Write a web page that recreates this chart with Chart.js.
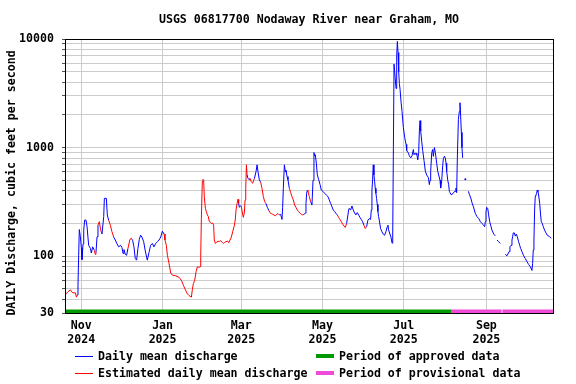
<!DOCTYPE html>
<html>
<head>
<meta charset="utf-8">
<script src="https://cdn.jsdelivr.net/npm/chart.js@4.4.1/dist/chart.umd.min.js"></script>
<style>
  html, body { margin: 0; padding: 0; background: #fff; }
  canvas { display: block; }
</style>
</head>
<body>
<canvas id="hydro" width="576" height="384"></canvas>
<script>
// Day offsets are counted from 2024-10-19
const TITLE = 'USGS 06817700 Nodaway River near Graham, MO';
const Y_TITLE = 'DAILY Discharge, cubic feet per second';

const monthTicks = [13, 74, 133, 194, 255, 317];
const monthLabels = [['Nov', '2024'], ['Jan', '2025'], ['Mar', '2025'], ['May', '2025'], ['Jul', '2025'], ['Sep', '2025']];
const yLabelTicks = [30, 100, 1000, 10000];

// [day, discharge cfs]  (null = no data)
const flow = [
  [0,43],[1.5,45],[3,47],[4.8,49],[6.5,46],[8.5,46],[9.3,42],[10,44],[10.5,54],[11,102],[11.5,176],[12.3,151],
  [13,120],[13.5,93],[14.3,130],[14.8,174],[15.5,215],[16.5,215],[17.3,187],[18.5,126],[19.8,118],[20.5,107],
  [21.5,122],[22.8,113],[23.5,104],[24,108],[24.8,151],[25.5,193],[26.5,208],[27.5,175],[28.5,160],[29.8,231],
  [30.3,341],[31.8,341],[32.5,240],[33.5,215],[34.8,193],[36,168],[37.3,150],[38.5,141],[39.8,130],[41,122],
  [42.5,126],[43.5,120],[44.3,106],[45,115],[46,104],[47,102],[48,118],[49.5,143],[50.5,146],[51.5,140],
  [52.5,122],[53.5,95],[54.5,92],[55.5,118],[56.5,143],[57.5,156],[58.5,150],[59.8,136],[61,112],
  [62.5,92],[63.8,108],[65,126],[66.3,131],[67.5,122],[68.8,131],[70.1,136],[71.3,141],[72.6,150],[73.8,170],
  [75.1,160],[75.8,141],[76.8,126],[77.6,102],[78.8,86],[80.1,70],[81.3,67],[83.8,66],[86.3,64],[88.1,60],
  [89.6,54],[91.1,49],[92.6,45],[93.8,43.5],[95.6,42],[96.3,49],[97.1,56],[98.1,60],[99.1,72],[100.1,80],
  [101.1,79],[102.1,80],[102.6,99],[103.1,223],[103.8,486],[104.3,510],[104.8,500],[105.3,354],[106.1,276],
  [106.8,258],[107.6,240],[108.3,232],[109.1,208],[110.1,205],[110.8,200],[111.6,202],[112.3,193],[112.8,141],
  [113.6,131],[114.6,135],[115.6,137],[116.6,137],[117.6,139],[118.8,134],[119.6,131],[120.6,134],[121.6,136],
  [122.8,138],[123.6,133],[124.6,141],[125.6,150],[126.6,168],[127.9,193],[128.6,220],[129.1,266],[129.9,307],
  [130.6,334],[131.1,305],[131.6,282],[132.4,292],[133.1,285],[133.9,250],[134.6,228],[135.4,255],[135.9,330],
  [136.4,422],[136.9,694],[137.4,560],[138.1,521],[139.1,505],[139.6,521],[140.4,486],[141.6,470],[142.9,520],
  [144.1,600],[144.9,694],[145.6,600],[146.6,505],[147.6,480],[148.6,422],[149.6,354],[150.6,318],[151.6,305],
  [152.6,282],[153.6,266],[154.6,251],[155.6,247],[156.6,243],[157.6,240],[158.6,235],[159.6,243],[160.6,247],
  [161.6,240],[162.6,243],[163.6,218],[164.1,282],[164.6,422],[165.4,694],[166.1,600],[166.6,620],[167.4,541],
  [168.1,505],[169.1,422],[170.1,385],[171.1,354],[172.1,330],[173.1,296],[174.1,282],[175.1,266],[176.1,258],
  [177.1,249],[178.1,243],[179.1,240],[180.1,243],[181.1,249],[181.6,305],[182.1,380],[182.6,405],[183.1,393],
  [184.1,354],[185.1,318],[186.1,296],[186.9,500],[187.6,900],[188.1,840],[188.6,860],[189.4,719],[190.1,561],
  [191.1,510],[192.1,460],[193.1,407],[194.4,395],[195.6,380],[196.9,366],[198.1,354],[199.1,330],[200.1,307],
  [201.1,286],[202.1,266],[203.1,258],[204.1,248],[205.1,240],[206.1,228],[207.1,218],[208.1,208],[209.1,198],
  [210.1,190],[211.1,184],[212.1,200],[213.1,240],[213.6,266],[214.1,276],[215.1,266],[216.1,290],[217.1,266],
  [218.1,250],[219.1,240],[220.1,252],[221.1,240],[222.1,228],[223.1,218],[224.1,208],[225.1,193],[226.1,180],
  [227.1,187],[228.1,215],[229.1,222],[230.1,218],[230.6,266],[231.1,400],[231.6,505],[232.1,694],[232.6,560],
  [233.1,490],[233.6,422],[234.1,380],[234.6,340],[235.1,300],[235.6,258],[236.1,232],[236.6,215],[237.6,180],
  [238.6,168],[239.6,160],[240.6,156],[241.6,168],[242.6,187],[243.1,193],[243.6,175],[244.6,160],[245.4,150],
  [246.2,132],[246.7,150],[247.2,1000],[247.7,5870],[248.5,4500],[249.2,3500],[249.7,7000],[250.2,9500],
  [250.7,7500],[251.2,5000],[251.7,3900],[252.2,3450],[253,2600],[253.7,2150],[254.7,1530],[255.7,1240],
  [256.7,1070],[257.2,940],[258.5,890],[259.2,840],[260.2,804],[261.2,840],[262.2,960],[262.7,860],[263.5,890],
  [264.2,860],[264.7,890],[265.5,770],[266.2,900],[266.7,1420],[267.2,1770],[267.7,1420],[268.5,1130],[269.2,940],
  [270.2,760],[271.2,606],[272.2,560],[273.5,530],[274.2,456],[274.7,500],[275.2,606],[276,900],[276.7,960],
  [277.2,830],[278,1000],[278.7,900],[279.7,720],[280.5,606],[281.2,560],[282.2,500],[282.7,424],[283.5,500],
  [284.2,680],[284.7,790],[285.5,833],[286.2,800],[286.7,720],[287.2,606],[288,500],[288.7,456],[289.2,396],
  [289.7,385],[290.5,369],[291.2,369],[292.2,385],[293.5,396],[294.2,424],[294.7,385],[295.2,800],[296,1820],
  [296.7,2150],[297.2,2590],[297.7,1950],[298.2,1380],[298.7,1000],[299.2,804],[300.2,null],[301.2,512],
  [302.3,null],[303.5,396],[304.3,369],[305.3,343],[306.2,311],[307.3,285],[308.7,248],[310,231],[311.2,223],
  [312.5,208],[313.7,200],[315,193],[315.7,187],[316.2,208],[316.7,257],[317.2,282],[318,276],[318.7,240],
  [319.5,208],[320.2,193],[321.2,174],[322.5,160],[323.7,154],[324.4,null],[325,141],[326.2,136],[327.5,131],
  [329,null],[331.2,104],[332.5,101],[333.2,101],[334,110],[334.7,122],[335.5,126],[336.2,141],[336.7,151],
  [337.2,164],[338,164],[338.7,153],[339.5,160],[340.2,151],[341.2,136],[342,126],[342.7,118],[343.7,110],
  [345,101],[346.2,95],[347.5,89],[348.7,84],[350,80],[351.2,74],[351.7,86],[352.2,114],[352.7,141],[353.2,266],
  [353.7,358],[354.2,366],[354.7,380],[355.2,407],[355.7,393],[356.2,366],[357,307],[357.7,240],[358.2,208],
  [359,200],[359.7,187],[360.7,174],[361.7,164],[362.7,156],[364.2,152],[365.7,146]
];

// day ranges whose values are estimated (drawn red)
const estimatedRanges = [
  [1.5, 10], [22.8, 24], [25.5, 28.5], [33.5, 37.3], [48, 50.5], [75.1, 131.1], [133.1, 137.4],
  [139.6, 142.9], [147.6, 151.6], [153.6, 161.6], [169.1, 180.1], [182.6, 185.1], [205.1, 212.1], [225.1, 227.1]
];

const approvedPeriods = [[0, 290.5]];
const provisionalPeriods = [[290.5, 328.4], [329, 368]];

const BLUE = '#0000ff';
const RED = '#ff0000';
const GREEN = '#009900';
const MAGENTA = '#f04ad8';
const GRID = '#cccccc';
const FONT_FAMILY = '"DejaVu Sans Mono", "Liberation Mono", monospace';
const BAR_Y = 31;

const yGridValues = [];
[10, 100, 1000].forEach(dec => {
  for (let m = 1; m < 10; m++) {
    const v = m * dec;
    if (v >= 30) yGridValues.push(v);
  }
});
yGridValues.push(10000);

function isEstimated(d0, d1) {
  return estimatedRanges.some(([s, e]) => d0 >= s - 0.01 && d1 <= e + 0.01);
}

function periodData(periods) {
  const out = [];
  periods.forEach(([s, e]) => {
    out.push({ x: s, y: BAR_Y }, { x: e, y: BAR_Y }, { x: e, y: null });
  });
  return out;
}

const flowData = flow.map(([d, v]) => ({ x: d, y: v }));

function isolated(i) {
  if (flow[i][1] == null) return false;
  const prev = flow[i - 1], next = flow[i + 1];
  return (!prev || prev[1] == null) && (!next || next[1] == null);
}

const decor = {
  id: 'decor',
  afterDatasetsDraw(chart) {
    const { ctx, chartArea: a } = chart;
    ctx.save();
    ctx.strokeStyle = '#000';
    ctx.lineWidth = 1;
    ctx.strokeRect(Math.round(a.left) + 0.5, Math.round(a.top) + 0.5,
      Math.round(a.right - a.left), Math.round(a.bottom - a.top));
    ctx.restore();
  },
  afterDraw(chart) {
    const { ctx, chartArea: a } = chart;
    ctx.save();
    ctx.fillStyle = '#000';
    ctx.font = 'bold 11.6px ' + FONT_FAMILY;
    ctx.textAlign = 'center';
    ctx.textBaseline = 'middle';
    ctx.fillText(TITLE, (a.left + a.right) / 2, 20);

    ctx.save();
    ctx.translate(12, 183);
    ctx.rotate(-Math.PI / 2);
    ctx.fillText(Y_TITLE, 0, 0);
    ctx.restore();

    // legend
    ctx.textAlign = 'left';
    const rows = [
      { x: 75, y: 356, color: BLUE, w: 1, text: 'Daily mean discharge' },
      { x: 75, y: 373, color: RED, w: 1, text: 'Estimated daily mean discharge' },
      { x: 316, y: 356, color: GREEN, w: 4, text: 'Period of approved data' },
      { x: 316, y: 373, color: MAGENTA, w: 4, text: 'Period of provisional data' }
    ];
    rows.forEach(r => {
      ctx.strokeStyle = r.color;
      ctx.lineWidth = r.w;
      ctx.beginPath();
      const yy = r.w === 1 ? r.y + 0.5 : r.y;
      ctx.moveTo(r.x, yy);
      ctx.lineTo(r.x + 18, yy);
      ctx.stroke();
      ctx.fillText(r.text, r.x + 23, r.y + 1);
    });
    ctx.restore();
  }
};

new Chart(document.getElementById('hydro'), {
  type: 'line',
  data: {
    datasets: [
      {
        label: 'Period of approved data',
        data: periodData(approvedPeriods),
        borderColor: GREEN,
        borderWidth: 4,
        pointRadius: 0,
        spanGaps: false
      },
      {
        label: 'Period of provisional data',
        data: periodData(provisionalPeriods),
        borderColor: MAGENTA,
        borderWidth: 4,
        pointRadius: 0,
        spanGaps: false
      },
      {
        label: 'Daily mean discharge',
        data: flowData,
        borderColor: BLUE,
        borderWidth: 1,
        tension: 0,
        spanGaps: false,
        pointRadius: c => isolated(c.dataIndex) ? 1 : 0,
        pointBackgroundColor: BLUE,
        pointBorderWidth: 0,
        segment: {
          borderColor: c => isEstimated(c.p0.parsed.x, c.p1.parsed.x) ? RED : BLUE
        }
      }
    ]
  },
  options: {
    responsive: false,
    animation: false,
    layout: { padding: { top: 39, right: 23, left: 0, bottom: 0 } },
    plugins: {
      legend: { display: false },
      tooltip: { enabled: false },
      title: { display: false }
    },
    scales: {
      x: {
        type: 'linear',
        min: 0.75,
        max: 367,
        afterFit: s => { s.height = 71; },
        afterBuildTicks: s => { s.ticks = monthTicks.map(v => ({ value: v })); },
        border: { display: false },
        grid: { color: GRID, lineWidth: 1, drawTicks: false },
        ticks: {
          autoSkip: false,
          maxRotation: 0,
          padding: 6,
          color: '#000',
          font: { family: FONT_FAMILY, size: 11.6, weight: 'bold', lineHeight: 1.2 },
          callback: (v, i) => monthLabels[i]
        }
      },
      y: {
        type: 'logarithmic',
        min: 30,
        max: 10000,
        afterFit: s => { s.width = 65; },
        afterBuildTicks: s => { s.ticks = yGridValues.map(v => ({ value: v })); },
        border: { display: false },
        grid: { color: GRID, lineWidth: 1, drawTicks: true, tickLength: 3, tickColor: '#555' },
        ticks: {
          autoSkip: false,
          padding: 8,
          color: '#000',
          font: { family: FONT_FAMILY, size: 11.6, weight: 'bold' },
          callback: v => yLabelTicks.includes(v) ? String(v) : ''
        }
      }
    }
  },
  plugins: [decor]
});
</script>
</body>
</html>
